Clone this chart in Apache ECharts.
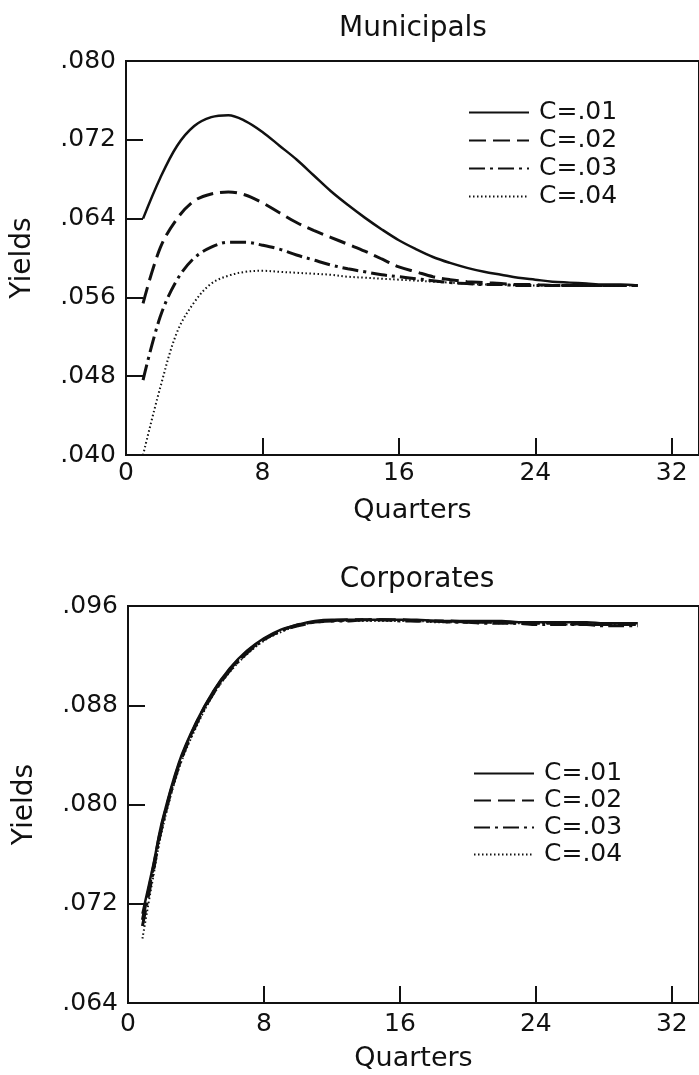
<!DOCTYPE html>
<html>
<head>
<meta charset="utf-8">
<script src="https://cdn.jsdelivr.net/npm/echarts@6/dist/echarts.min.js"></script>
<style>
html,body{margin:0;padding:0;background:#fff;}
#chart{width:699px;height:1075px;}
</style>
</head>
<body>
<div id="chart"></div>
<script>
// ---- data ----
const seriesNames = ['C=.01', 'C=.02', 'C=.03', 'C=.04'];
const xTicks = [0, 8, 16, 24, 32];

// Municipals (quarters 1..30)
const muniQuarters = [1,2,3,4,5,6,7,8,9,10,11,12,13,14,15,16,17,18,19,20,21,22,23,24,25,26,27,28,29,30];
const muniC01 = [.0640,.0681,.0714,.0734,.0743,.0745,.0739,.0728,.0714,.0700,.0684,.0668,.0654,.0641,.0629,.0618,.0609,.0601,.0595,.0590,.0586,.0583,.0580,.0578,.0576,.0575,.0574,.0573,.0573,.0572];
const muniC02 = [.0554,.0610,.0640,.0658,.0665,.0667,.0664,.0656,.0646,.0636,.0628,.0621,.0614,.0607,.0599,.0591,.0586,.0581,.0578,.0576,.0575,.0574,.0573,.0573,.0572,.0572,.0572,.0572,.0572,.0572];
const muniC03 = [.0476,.0540,.0578,.0600,.0611,.0616,.0616,.0613,.0609,.0603,.0598,.0593,.0589,.0586,.0583,.0581,.0579,.0577,.0575,.0574,.0573,.0573,.0572,.0572,.0572,.0572,.0572,.0572,.0572,.0572];
const muniC04 = [.0400,.0468,.0525,.0555,.0574,.0582,.0586,.0587,.0586,.0585,.0584,.0583,.0581,.0580,.0579,.0578,.0577,.0576,.0575,.0574,.0573,.0573,.0572,.0572,.0572,.0572,.0572,.0572,.0572,.0572];

// Corporates
const corpQuarters = [0.85,1.5,2,3,4,5,6,7,8,9,10,11,12,13,14,15,16,17,18,19,20,21,22,23,24,25,26,27,28,29,30];
const corpC01 = [.0712,.0752,.0786,.0834,.0866,.0891,.0910,.0924,.0934,.0941,.0945,.0948,.0949,.0949,.0949,.0949,.0949,.0949,.0948,.0948,.0948,.0948,.0948,.0947,.0947,.0947,.0947,.0947,.0946,.0946,.0946];
const corpC02 = [.0707,.0750,.0784,.0832,.0865,.0890,.0909,.0923,.0933,.0940,.0945,.0947,.0948,.0949,.0949,.0949,.0949,.0948,.0948,.0948,.0947,.0947,.0947,.0946,.0946,.0946,.0946,.0945,.0945,.0945,.0945];
const corpC03 = [.0702,.0747,.0782,.0831,.0864,.0889,.0908,.0922,.0933,.0940,.0944,.0947,.0948,.0948,.0949,.0949,.0948,.0948,.0948,.0947,.0947,.0946,.0946,.0946,.0945,.0945,.0945,.0945,.0944,.0944,.0944];
const corpC04 = [.0692,.0743,.0779,.0829,.0862,.0888,.0907,.0921,.0932,.0939,.0944,.0947,.0948,.0948,.0948,.0948,.0948,.0948,.0947,.0947,.0947,.0947,.0946,.0946,.0946,.0946,.0945,.0945,.0945,.0945,.0945];

// ---- chart ----
const FONT = 'DejaVu Sans';
const INK = '#111';
const lineStyles = [
  {width: 2.5, type: 'solid'},
  {width: 3, type: [17, 7]},
  {width: 3, type: [16, 5, 3, 5]},
  {width: 2, type: [1.5, 2.5]}
];
const yFmt = v => v.toFixed(3).replace(/^0/, '');

function pairs(xs, ys) { return xs.map((x, i) => [x, ys[i]]); }

function mkX(gi, margin) {
  return {
    type: 'value', gridIndex: gi, min: 0, max: 33.6, interval: 8,
    name: 'Quarters', nameLocation: 'middle', nameGap: 42,
    nameTextStyle: {fontFamily: FONT, fontSize: 27, color: INK, lineHeight: 27},
    axisLine: {show: true, lineStyle: {color: INK, width: 2}},
    axisTick: {show: true, inside: true, length: 17, lineStyle: {color: INK, width: 2}},
    axisLabel: {show: true, margin: margin, fontFamily: FONT, fontSize: 25, color: INK, lineHeight: 25,
      showMaxLabel: false, formatter: v => (xTicks.indexOf(v) >= 0 ? String(v) : '')},
    splitLine: {show: false}
  };
}
function mkY(gi, min, max) {
  return {
    type: 'value', gridIndex: gi, min: min, max: max, interval: 0.008,
    name: 'Yields', nameLocation: 'middle', nameGap: 89, nameRotate: 90,
    nameTextStyle: {fontFamily: FONT, fontSize: 28, color: INK, lineHeight: 28},
    axisLine: {show: true, lineStyle: {color: INK, width: 2}},
    axisTick: {show: true, inside: true, length: 17, lineStyle: {color: INK, width: 2}},
    axisLabel: {show: true, margin: 10, fontFamily: FONT, fontSize: 25, color: INK, formatter: yFmt},
    splitLine: {show: false}
  };
}
function mkLegend(left, top, gap) {
  return {
    orient: 'vertical', left: left, top: top, padding: 0, itemWidth: 60, itemHeight: 14, itemGap: gap,
    data: seriesNames, selectedMode: false,
    itemStyle: {color: 'transparent', borderColor: 'transparent', borderWidth: 0, opacity: 0},
    textStyle: {fontFamily: FONT, fontSize: 25, color: INK, lineHeight: 25, padding: [0, 0, 0, 5]}
  };
}

const muniData = [muniC01, muniC02, muniC03, muniC04];
const corpData = [corpC01, corpC02, corpC03, corpC04];
const series = [];
seriesNames.forEach((n, i) => {
  series.push({type: 'line', name: n, xAxisIndex: 0, yAxisIndex: 0, data: pairs(muniQuarters, muniData[i]),
    symbol: 'none', smooth: 0.35, lineStyle: Object.assign({color: INK}, lineStyles[i]), itemStyle: {color: INK}});
});
seriesNames.forEach((n, i) => {
  series.push({type: 'line', name: n, xAxisIndex: 1, yAxisIndex: 1, data: pairs(corpQuarters, corpData[i]),
    symbol: 'none', smooth: 0.35, lineStyle: Object.assign({color: INK}, lineStyles[i]), itemStyle: {color: INK}});
});

const chart = echarts.init(document.getElementById('chart'), null, {renderer: 'canvas'});
chart.setOption({
  backgroundColor: '#fff',
  animation: false,
  grid: [
    {left: 126, top: 61, height: 394, right: -2, show: true, borderColor: INK, borderWidth: 2, backgroundColor: 'transparent'},
    {left: 128, top: 606, height: 397, right: -6, show: true, borderColor: INK, borderWidth: 2, backgroundColor: 'transparent'}
  ],
  xAxis: [mkX(0, 6), mkX(1, 9)],
  yAxis: [mkY(0, 0.040, 0.080), mkY(1, 0.064, 0.096)],
  legend: [mkLegend(468, 100, 3), mkLegend(473, 761, 2)],
  graphic: [
    {type: 'text', x: 413, y: 29, style: {text: 'Municipals', fontFamily: FONT, fontSize: 28, fill: INK, textAlign: 'center', textVerticalAlign: 'middle'}},
    {type: 'text', x: 417, y: 580, style: {text: 'Corporates', fontFamily: FONT, fontSize: 28, fill: INK, textAlign: 'center', textVerticalAlign: 'middle'}}
  ],
  series: series
});
</script>
</body>
</html>
